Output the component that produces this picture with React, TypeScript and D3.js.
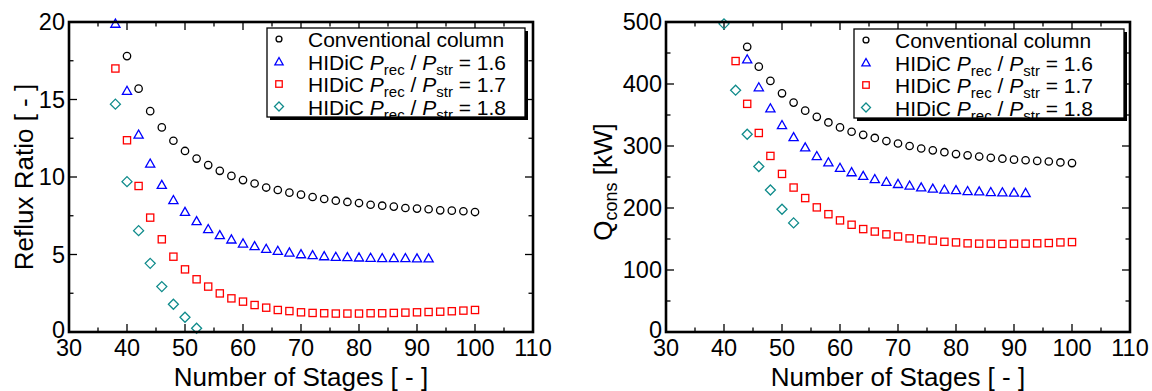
import * as d3 from "d3"

// ---- data ----
const xTicks = [30, 40, 50, 60, 70, 80, 90, 100, 110]
const refluxTicks = [0, 5, 10, 15, 20]
const heatTicks = [0, 100, 200, 300, 400, 500]

// Reflux ratio vs number of stages
const rrConvStages = [40, 42, 44, 46, 48, 50, 52, 54, 56, 58, 60, 62, 64, 66, 68, 70, 72, 74, 76, 78, 80, 82, 84, 86, 88, 90, 92, 94, 96, 98, 100]
const rrConv = [17.8, 15.7, 14.25, 13.2, 12.34, 11.68, 11.19, 10.77, 10.4, 10.07, 9.8, 9.58, 9.32, 9.16, 8.99, 8.86, 8.71, 8.58, 8.47, 8.39, 8.32, 8.21, 8.15, 8.09, 8.0, 7.96, 7.92, 7.85, 7.83, 7.79, 7.74]
const rr16Stages = [38, 40, 42, 44, 46, 48, 50, 52, 54, 56, 58, 60, 62, 64, 66, 68, 70, 72, 74, 76, 78, 80, 82, 84, 86, 88, 90, 92]
const rr16 = [19.9, 15.57, 12.75, 10.88, 9.5, 8.52, 7.76, 7.16, 6.65, 6.26, 5.98, 5.72, 5.55, 5.38, 5.25, 5.14, 5.03, 4.97, 4.9, 4.86, 4.84, 4.82, 4.8, 4.78, 4.78, 4.78, 4.76, 4.76]
const rr17Stages = [38, 40, 42, 44, 46, 48, 50, 52, 54, 56, 58, 60, 62, 64, 66, 68, 70, 72, 74, 76, 78, 80, 82, 84, 86, 88, 90, 92, 94, 96, 98, 100]
const rr17 = [17.0, 12.37, 9.42, 7.38, 5.98, 4.86, 4.04, 3.4, 2.93, 2.49, 2.17, 1.96, 1.74, 1.57, 1.42, 1.35, 1.27, 1.23, 1.21, 1.19, 1.19, 1.19, 1.21, 1.21, 1.23, 1.25, 1.27, 1.29, 1.31, 1.34, 1.38, 1.42]
const rr18Stages = [38, 40, 42, 44, 46, 48, 50, 52]
const rr18 = [14.7, 9.7, 6.54, 4.43, 2.93, 1.79, 0.95, 0.24]

// Heat consumption vs number of stages
const qConvStages = [44, 46, 48, 50, 52, 54, 56, 58, 60, 62, 64, 66, 68, 70, 72, 74, 76, 78, 80, 82, 84, 86, 88, 90, 92, 94, 96, 98, 100]
const qConv = [460, 428, 405, 385, 370, 357, 347, 338, 330, 323, 318, 313, 308, 304, 300, 296, 293, 290, 287, 285, 283, 281, 279.5, 278, 277, 276, 275, 273.5, 272.5]
const q16Stages = [44, 46, 48, 50, 52, 54, 56, 58, 60, 62, 64, 66, 68, 70, 72, 74, 76, 78, 80, 82, 84, 86, 88, 90, 92]
const q16 = [440, 395, 361, 334, 314.5, 298, 284, 274, 265, 258, 252, 247, 242.5, 239, 236.5, 233.5, 231.5, 230, 229, 227.5, 227, 226, 225.5, 225, 224.5]
const q17Stages = [42, 44, 46, 48, 50, 52, 54, 56, 58, 60, 62, 64, 66, 68, 70, 72, 74, 76, 78, 80, 82, 84, 86, 88, 90, 92, 94, 96, 98, 100]
const q17 = [437, 368, 321, 284, 255, 233, 216, 201, 190, 180, 173, 166, 162, 157.5, 154, 151, 149.5, 147.5, 145.5, 144.5, 143, 142.5, 142.5, 142, 142.5, 142.5, 143, 143.5, 144.5, 145]
const q18Stages = [40, 42, 44, 46, 48, 50, 52]
const q18 = [497, 390, 319, 267, 229, 198, 176]

const legendRatios = ["1.6", "1.7", "1.8"]

type Shape = "circle" | "triangle" | "square" | "diamond"
const shapes: Shape[] = ["circle", "triangle", "square", "diamond"]
const colors = ["#000000", "#0000ff", "#ff0000", "#0f8b8b"]
const FONT = "'Liberation Sans', Arial, Helvetica, sans-serif"

function Marker({ shape, x, y, color, k = 1 }: { shape: Shape; x: number; y: number; color: string; k?: number }) {
  const common = { fill: "none", stroke: color, strokeWidth: 1.3 }
  if (shape === "circle") return <circle cx={x} cy={y} r={3.7 * k} {...common} />
  if (shape === "square") {
    const s = 3.6 * k
    return <rect x={x - s} y={y - s} width={2 * s} height={2 * s} {...common} />
  }
  if (shape === "triangle") {
    const w = 4.6 * k
    return <path d={`M${x},${y - 4.4 * k}L${x + w},${y + 3.7 * k}L${x - w},${y + 3.7 * k}Z`} {...common} />
  }
  const d = 5 * k
  return <path d={`M${x},${y - d}L${x + d},${y}L${x},${y + d}L${x - d},${y}Z`} {...common} />
}

interface PanelProps {
  x0: number
  x1: number
  yMax: number
  yTicks: number[]
  yMinorStep: number
  yLabel: React.ReactNode
  yLabelX: number
  yLabelY: number
  stages: number[][]
  values: number[][]
  legend: { x: number; y: number; w: number; h: number }
}

function Panel({ x0, x1, yMax, yTicks, yMinorStep, yLabel, yLabelX, yLabelY, stages, values, legend }: PanelProps) {
  const top = 22
  const bottom = 332
  const x = d3.scaleLinear().domain([30, 110]).range([x0, x1])
  const y = d3.scaleLinear().domain([0, yMax]).range([bottom, top])

  const xMinor = d3.range(35, 110, 10)
  const yMinor = d3.range(yMinorStep, yMax, yMinorStep * 2)
  const tick = { stroke: "#000", strokeWidth: 1.3 }

  const legendRows = ["Conventional column", ...legendRatios]

  return (
    <g fontFamily={FONT}>
      {/* x ticks, bottom and top */}
      {xTicks.map((t) => (
        <g key={`xt${t}`}>
          <line x1={x(t)} x2={x(t)} y1={bottom} y2={bottom - 8} {...tick} />
          <line x1={x(t)} x2={x(t)} y1={top} y2={top + 8} {...tick} />
          <text x={x(t)} y={bottom + 24} fontSize={23.5} textAnchor="middle">{t}</text>
        </g>
      ))}
      {xMinor.map((t) => (
        <g key={`xm${t}`}>
          <line x1={x(t)} x2={x(t)} y1={bottom} y2={bottom - 4.5} {...tick} />
          <line x1={x(t)} x2={x(t)} y1={top} y2={top + 4.5} {...tick} />
        </g>
      ))}
      {/* y ticks, left and right */}
      {yTicks.map((t) => (
        <g key={`yt${t}`}>
          <line x1={x0} x2={x0 + 8} y1={y(t)} y2={y(t)} {...tick} />
          <line x1={x1} x2={x1 - 8} y1={y(t)} y2={y(t)} {...tick} />
          <text x={x0 - 4} y={y(t) + (t === 0 ? 6 : 8)} fontSize={23.5} textAnchor="end">{t}</text>
        </g>
      ))}
      {yMinor.map((t) => (
        <g key={`ym${t}`}>
          <line x1={x0} x2={x0 + 4.5} y1={y(t)} y2={y(t)} {...tick} />
          <line x1={x1} x2={x1 - 4.5} y1={y(t)} y2={y(t)} {...tick} />
        </g>
      ))}

      {/* series */}
      {values.map((vals, si) => (
        <g key={`s${si}`}>
          {vals.map((v, i) => (
            <Marker key={i} shape={shapes[si]} x={x(stages[si][i])} y={y(v)} color={colors[si]} />
          ))}
        </g>
      ))}

      {/* frame */}
      <rect x={x0} y={top} width={x1 - x0} height={bottom - top} fill="none" stroke="#000" strokeWidth={2.6} />

      {/* legend with drop shadow */}
      <rect x={legend.x + 3} y={legend.y + 3} width={legend.w} height={legend.h} fill="#000" />
      <rect x={legend.x} y={legend.y} width={legend.w} height={legend.h} fill="#fff" stroke="#000" strokeWidth={1.3} />
      {legendRows.map((row, i) => {
        const base = legend.y + 19 + i * 22.5
        return (
          <g key={`l${i}`}>
            <Marker shape={shapes[i]} x={legend.x + 12} y={base - 8} color={colors[i]} k={i === 0 ? 0.8 : 0.9} />
            <text x={legend.x + 41} y={base} fontSize={21}>
              {i === 0 ? (
                row
              ) : (
                <>
                  {"HIDiC "}
                  <tspan fontStyle="italic">P</tspan>
                  <tspan fontSize={15} dy={5}>rec</tspan>
                  <tspan dy={-5}>{" / "}</tspan>
                  <tspan fontStyle="italic">P</tspan>
                  <tspan fontSize={15} dy={5}>str</tspan>
                  <tspan dy={-5}>{" = " + row}</tspan>
                </>
              )}
            </text>
          </g>
        )
      })}

      {/* axis titles */}
      <text x={(x0 + x1) / 2} y={386} fontSize={26} textAnchor="middle">Number of Stages [ - ]</text>
      <text transform={`translate(${yLabelX},${yLabelY}) rotate(-90)`} fontSize={26} textAnchor="middle">
        {yLabel}
      </text>
    </g>
  )
}

export default function App() {
  return (
    <div style={{ position: "fixed", left: 0, top: 0, width: 1152, height: 391, background: "#fff" }}>
      <svg width={1152} height={391} style={{ display: "block" }}>
        <rect width={1152} height={391} fill="#fff" />
        <Panel
          x0={69}
          x1={533}
          yMax={20}
          yTicks={refluxTicks}
          yMinorStep={2.5}
          yLabel="Reflux Ratio [ - ]"
          yLabelX={33}
          yLabelY={177}
          stages={[rrConvStages, rr16Stages, rr17Stages, rr18Stages]}
          values={[rrConv, rr16, rr17, rr18]}
          legend={{ x: 267, y: 28, w: 258, h: 89 }}
        />
        <Panel
          x0={666}
          x1={1130}
          yMax={500}
          yTicks={heatTicks}
          yMinorStep={50}
          yLabel={
            <>
              {"Q"}
              <tspan fontSize={18} dy={5}>cons</tspan>
              <tspan dy={-5}>{"  [kW]"}</tspan>
            </>
          }
          yLabelX={612}
          yLabelY={182}
          stages={[qConvStages, q16Stages, q17Stages, q18Stages]}
          values={[qConv, q16, q17, q18]}
          legend={{ x: 854, y: 29, w: 270, h: 89 }}
        />
      </svg>
    </div>
  )
}
